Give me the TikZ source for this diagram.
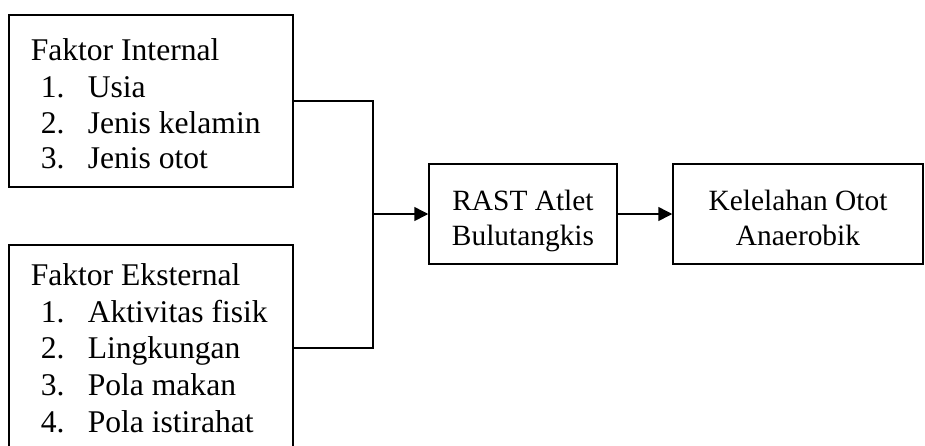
\documentclass[tikz,border=0pt]{standalone}
\usepackage{fontspec}
\setmainfont{Liberation Serif}
\usetikzlibrary{positioning, arrows.meta}

\begin{document}
\begin{tikzpicture}[x=.5pt, y=-.5pt, line width=.75pt, >={Triangle[length=7pt,width=7pt]},
    box/.style={draw, rectangle, inner sep=0pt},
    mid/.style={font=\fontsize{14.7}{17.5}\selectfont, align=center, anchor=base, inner sep=0pt},
    txt/.style={font=\fontsize{15.8}{18}\selectfont, anchor=base west, inner sep=0pt}]
\clip (0,0) rectangle (925,445);

\node (int)[box, minimum width=142pt, minimum height=86pt] at (151,101){};
\node (ext)[box, minimum width=142pt, minimum height=103pt] at (151,348){};
\node (rast)[box, minimum width=94pt, minimum height=50pt] at (523,214){};
\node (lelah)[box, minimum width=125pt, minimum height=50pt] at (798,214){};

% box texts (base = last line)
\node (rastT) at (523,245)[mid]{RAST Atlet\\Bulutangkis};
\node (lelahT) at (798,245)[mid]{Kelelahan Otot\\Anaerobik};

% factor lists
\node (intT) at (30,60)[txt]{Faktor Internal};
\foreach \y/\n/\t in {97/1./Usia, 133/2./Jenis kelamin, 168/3./Jenis otot}
{
    \node (in\y) at (40,\y)[txt]{\n};
    \node (it\y) at (87,\y)[txt]{\t};
}
\node (extT) at (30,285)[txt]{Faktor Eksternal};
\foreach \y/\n/\t in {322/1./Aktivitas fisik, 358/2./Lingkungan, 395/3./Pola makan, 432/4./Pola istirahat}
{
    \node (en\y) at (40,\y)[txt]{\n};
    \node (et\y) at (87,\y)[txt]{\t};
}

\coordinate (jn) at (373,214);

\draw (int.east) -| (jn);
\draw (ext.east) -| (jn);
\draw [->](jn)--(rast);
\draw [->](rast)--(lelah);
\end{tikzpicture}
\end{document}
